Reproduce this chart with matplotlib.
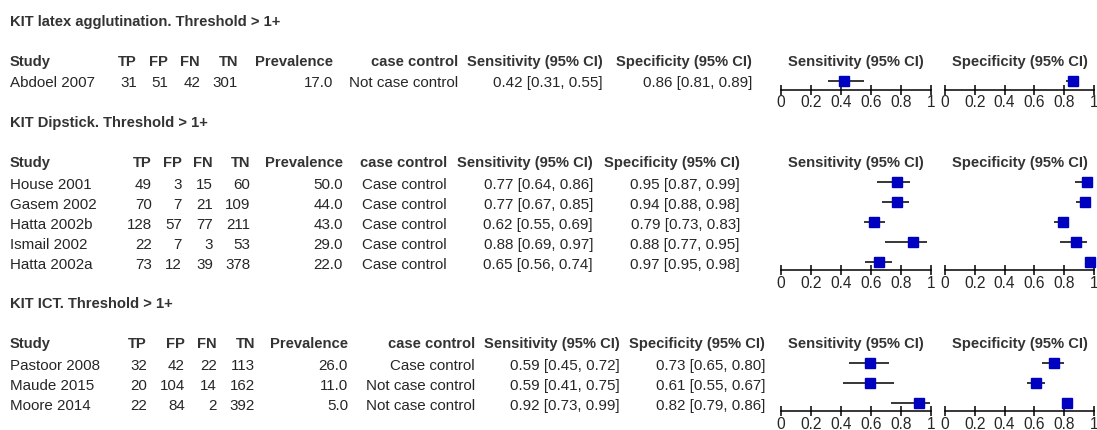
import matplotlib
matplotlib.use("Agg")
import matplotlib.pyplot as plt

W, H = 1097, 430

# ---------------- data ----------------
titles = ["KIT latex agglutination. Threshold > 1+",
          "KIT Dipstick. Threshold > 1+",
          "KIT ICT. Threshold > 1+"]

latex_study = ["Abdoel 2007"]
latex_tp = [31]
latex_fp = [51]
latex_fn = [42]
latex_tn = [301]
latex_prev = [17.0]
latex_cc = ["Not case control"]
latex_sens = [0.42]
latex_sens_lo = [0.31]
latex_sens_hi = [0.55]
latex_spec = [0.86]
latex_spec_lo = [0.81]
latex_spec_hi = [0.89]

dip_study = ["House 2001", "Gasem 2002", "Hatta 2002b", "Ismail 2002", "Hatta 2002a"]
dip_tp = [49, 70, 128, 22, 73]
dip_fp = [3, 7, 57, 7, 12]
dip_fn = [15, 21, 77, 3, 39]
dip_tn = [60, 109, 211, 53, 378]
dip_prev = [50.0, 44.0, 43.0, 29.0, 22.0]
dip_cc = ["Case control"] * 5
dip_sens = [0.77, 0.77, 0.62, 0.88, 0.65]
dip_sens_lo = [0.64, 0.67, 0.55, 0.69, 0.56]
dip_sens_hi = [0.86, 0.85, 0.69, 0.97, 0.74]
dip_spec = [0.95, 0.94, 0.79, 0.88, 0.97]
dip_spec_lo = [0.87, 0.88, 0.73, 0.77, 0.95]
dip_spec_hi = [0.99, 0.98, 0.83, 0.95, 0.98]

ict_study = ["Pastoor 2008", "Maude 2015", "Moore 2014"]
ict_tp = [32, 20, 22]
ict_fp = [42, 104, 84]
ict_fn = [22, 14, 2]
ict_tn = [113, 162, 392]
ict_prev = [26.0, 11.0, 5.0]
ict_cc = ["Case control", "Not case control", "Not case control"]
ict_sens = [0.59, 0.59, 0.92]
ict_sens_lo = [0.45, 0.41, 0.73]
ict_sens_hi = [0.72, 0.75, 0.99]
ict_spec = [0.73, 0.61, 0.82]
ict_spec_lo = [0.65, 0.55, 0.79]
ict_spec_hi = [0.80, 0.67, 0.86]

col_headers = ["Study", "TP", "FP", "FN", "TN", "Prevalence", "case control",
               "Sensitivity (95% CI)", "Specificity (95% CI)"]
axis_ticks = [0, 0.2, 0.4, 0.6, 0.8, 1]
axis_labels = ["0", "0.2", "0.4", "0.6", "0.8", "1"]

sections = [
    dict(study=latex_study, tp=latex_tp, fp=latex_fp, fn=latex_fn, tn=latex_tn,
         prev=latex_prev, cc=latex_cc, sens=latex_sens, sens_lo=latex_sens_lo,
         sens_hi=latex_sens_hi, spec=latex_spec, spec_lo=latex_spec_lo, spec_hi=latex_spec_hi),
    dict(study=dip_study, tp=dip_tp, fp=dip_fp, fn=dip_fn, tn=dip_tn,
         prev=dip_prev, cc=dip_cc, sens=dip_sens, sens_lo=dip_sens_lo,
         sens_hi=dip_sens_hi, spec=dip_spec, spec_lo=dip_spec_lo, spec_hi=dip_spec_hi),
    dict(study=ict_study, tp=ict_tp, fp=ict_fp, fn=ict_fn, tn=ict_tn,
         prev=ict_prev, cc=ict_cc, sens=ict_sens, sens_lo=ict_sens_lo,
         sens_hi=ict_sens_hi, spec=ict_spec, spec_lo=ict_spec_lo, spec_hi=ict_spec_hi),
]

# ---------------- layout (pixels, from top) ----------------
title_y = [20.5, 122, 303]
header_y = [60.5, 162, 343]
first_row_y = [80.5, 182, 363]
axis_y = [89.5, 270, 411]
row_h = 20.0
# right edges of columns: TP, FP, FN, TN, Prev, case control, Sens, Spec
col_right = [
    [137, 168, 200, 238, 333, 458, 603, 752],
    [152, 182, 213, 250, 343, 447, 593, 740],
    [147, 185, 217, 255, 348, 475, 620, 765],
]
study_x = 10
sens_x0, sens_x1 = 781, 931
spec_x0, spec_x1 = 945, 1094

FONT = "Liberation Sans"
FS_B = 10.6
FS_R = 10.9
TXT = "#262626"
BOLD = "#333333"
BLUE = "#0000C0"

fig = plt.figure(figsize=(W / 100, H / 100), dpi=100)
fig.patch.set_facecolor("white")


def fx(x):
    return x / W


def fy(y):
    return 1 - y / H


CAP = 5.4  # half cap height in px (text visual center -> baseline)


def put(x, y, s, ha="left", bold=False):
    fig.text(fx(x), fy(y + CAP), s, ha=ha, va="baseline",
             fontsize=FS_B if bold else FS_R,
             family=FONT, fontweight="bold" if bold else "normal",
             color=BOLD if bold else TXT)


for k, sec in enumerate(sections):
    put(study_x, title_y[k], titles[k], bold=True)
    cr = col_right[k]
    hy = header_y[k]
    put(study_x, hy, col_headers[0], bold=True)
    for j, h in enumerate(col_headers[1:]):
        put(cr[j], hy, h, ha="right", bold=True)
    n = len(sec["study"])
    for i in range(n):
        y = first_row_y[k] + i * row_h + 1.5
        put(study_x, y, sec["study"][i])
        put(cr[0], y, str(sec["tp"][i]), ha="right")
        put(cr[1], y, str(sec["fp"][i]), ha="right")
        put(cr[2], y, str(sec["fn"][i]), ha="right")
        put(cr[3], y, str(sec["tn"][i]), ha="right")
        put(cr[4], y, f"{sec['prev'][i]:.1f}", ha="right")
        put(cr[5], y, sec["cc"][i], ha="right")
        put(cr[6], y, f"{sec['sens'][i]:.2f} [{sec['sens_lo'][i]:.2f}, {sec['sens_hi'][i]:.2f}]", ha="right")
        put(cr[7], y, f"{sec['spec'][i]:.2f} [{sec['spec_lo'][i]:.2f}, {sec['spec_hi'][i]:.2f}]", ha="right")

    # forest panels
    top_px = first_row_y[k] - row_h / 2
    bot_px = axis_y[k]
    ybot = (bot_px - first_row_y[k]) / row_h
    for (x0, x1, est, lo, hi, lab) in [
        (sens_x0, sens_x1, sec["sens"], sec["sens_lo"], sec["sens_hi"], col_headers[7]),
        (spec_x0, spec_x1, sec["spec"], sec["spec_lo"], sec["spec_hi"], col_headers[8]),
    ]:
        ax = fig.add_axes([fx(x0), fy(bot_px), (x1 - x0) / W, (bot_px - top_px) / H])
        ax.set_xlim(0, 1)
        ax.set_ylim(ybot, -0.5)
        ax.patch.set_visible(False)
        for s in ["top", "left", "right"]:
            ax.spines[s].set_visible(False)
        ax.spines["bottom"].set_linewidth(1.1)
        ax.spines["bottom"].set_color("black")
        ax.set_yticks([])
        ax.set_xticks(axis_ticks)
        ax.set_xticklabels(axis_labels, family=FONT, fontsize=11.2, color=TXT)
        ax.tick_params(axis="x", direction="inout", length=7, width=1.1,
                       pad=0.5, color="black")
        rows = list(range(len(est)))
        ax.hlines(rows, lo, hi, color="black", linewidth=1.1, clip_on=False)
        ax.plot(est, rows, linestyle="none", marker="s", markersize=6.6,
                color=BLUE, markeredgecolor=BLUE, clip_on=False, zorder=3)
        put((x0 + x1) / 2, header_y[k], lab, ha="center", bold=True)

fig.savefig("out.png", dpi=100, facecolor="white")
